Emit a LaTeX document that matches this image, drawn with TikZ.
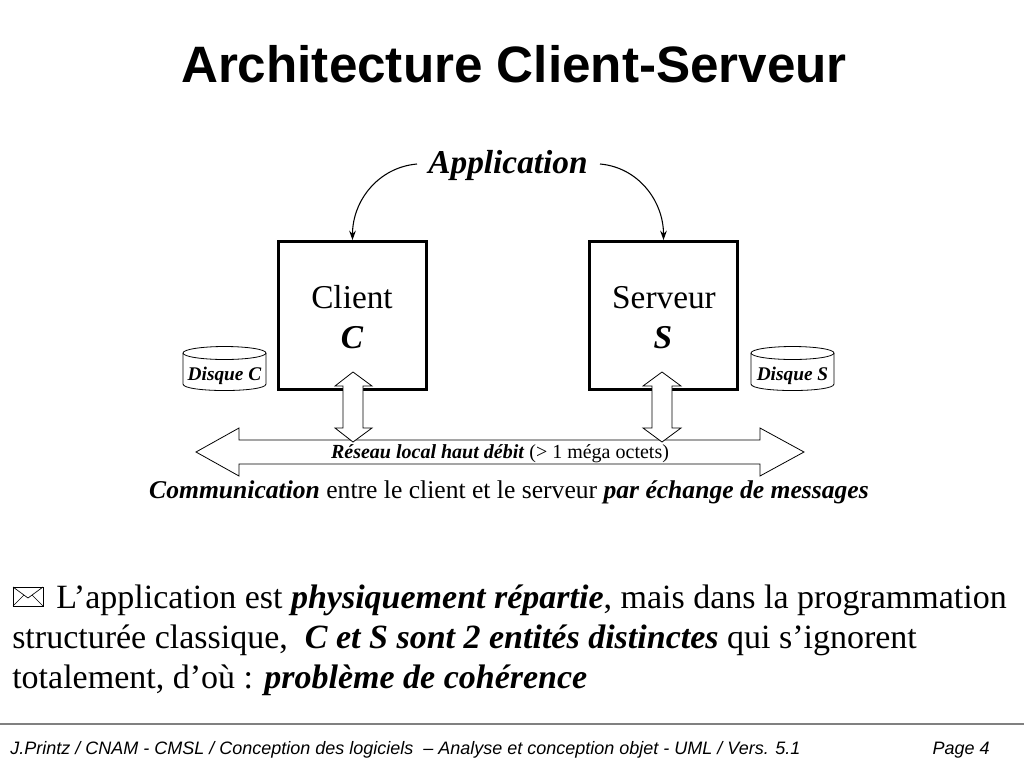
\documentclass[tikz,border=0pt]{standalone}
\usepackage{fontspec}
\setmainfont{Liberation Serif}
\newfontfamily\titlefont{Liberation Sans}
\newfontfamily\footfont{Liberation Sans}
\usetikzlibrary{arrows.meta}
\begin{document}
\begin{tikzpicture}[x=0.75pt,y=-0.75pt,
  box/.style={draw, line width=2.25pt, minimum width=111pt, minimum height=111pt, inner sep=0pt},
  fatarrow/.style={draw, line width=0.6pt, fill=white},
  curvearrow/.style={-{Stealth[length=7pt,width=5pt]}, line width=0.8pt},
  txt/.style={inner sep=0pt, anchor=base},
  disk/.style={draw, line width=0.6pt, fill=white},
  envelope/.style={draw, line width=0.5pt},
  body/.style={inner sep=0pt, anchor=base west, font=\fontsize{25.5}{30}\selectfont}]
\path[use as bounding box, fill=white] (0,0) rectangle (1024,768);

% title
\node[txt, font=\titlefont\bfseries\fontsize{38.4}{46}\selectfont] (title) at (514,82) {Architecture Client-Serveur};

% boxes
\node[box] (client) at (352.5,315.5) {};
\node[box] (serveur) at (663.5,315.5) {};
\node[txt, font=\fontsize{25}{30}\selectfont] (clientlbl) at (352,308) {Client};
\node[txt, font=\fontsize{25}{30}\selectfont\bfseries\itshape] (clientC) at (352,348) {C};
\node[txt, font=\fontsize{25}{30}\selectfont] (serveurlbl) at (664,308) {Serveur};
\node[txt, font=\fontsize{25}{30}\selectfont\bfseries\itshape] (serveurS) at (663,348) {S};

% application
\node[txt, font=\fontsize{25}{29}\selectfont\bfseries\itshape] (app) at (508,173) {Application};
\coordinate (appL) at (417,164);
\coordinate (appR) at (600,164);
\draw[curvearrow] (appL) to[out=185, in=90] (client.north);
\draw[curvearrow] (appR) to[out=-5, in=90] (serveur.north);

% disks
\draw[disk] (183,353) -- (183,384) .. controls (183,392.7) and (266,392.7) .. (266,384) -- (266,353);
\draw[disk] (224.5,353) ellipse [x radius=41.5, y radius=6.5];
\node[txt, font=\fontsize{14.5}{17}\selectfont\bfseries\itshape] (disqueC) at (224.5,380) {Disque C};
\draw[disk] (751,353) -- (751,384) .. controls (751,392.7) and (834,392.7) .. (834,384) -- (834,353);
\draw[disk] (792.5,353) ellipse [x radius=41.5, y radius=6.5];
\node[txt, font=\fontsize{14.5}{17}\selectfont\bfseries\itshape] (disqueS) at (792.5,380) {Disque S};

% network arrow
\draw[fatarrow] (196,452) -- (239,428) -- (239,440) -- (760,440) -- (760,428) -- (804,452)
  -- (760,476) -- (760,464) -- (239,464) -- (239,476) -- cycle;
\node[txt, font=\fontsize{15}{17}\selectfont] (reseau) at (500,458) {\textbf{\textit{Réseau local haut débit}} (> 1 méga octets)};

% vertical arrows
\draw[fatarrow] (353,372) -- (372,386) -- (363,386) -- (363,428) -- (372,428) -- (353,442)
  -- (335,428) -- (343,428) -- (343,386) -- (335,386) -- cycle;
\draw[fatarrow] (662,372) -- (681,386) -- (672,386) -- (672,428) -- (681,428) -- (662,442)
  -- (643,428) -- (652,428) -- (652,386) -- (643,386) -- cycle;

% communication
\node[txt, font=\fontsize{19.2}{23}\selectfont] (comm) at (509,498) {\textbf{\textit{Communication}} entre le client et le serveur \textbf{\textit{par échange de messages}}};

% envelope bullet
\draw[envelope] (13,587) rectangle (43,606);
\draw[envelope] (13,587) -- (28,598) -- (43,587);
\draw[envelope] (13,606) -- (24,595);
\draw[envelope] (43,606) -- (32,595);

% body text
\node[body] (line1) at (56,608) {L’application est \textbf{\textit{physiquement répartie}}, mais dans la programmation};
\node[body] (line2) at (12,648) {structurée classique,\ \ \textbf{\textit{C et S sont 2 entités distinctes}} qui s’ignorent};
\node[body] (line3) at (12,688) {totalement, d’où : \textbf{\textit{problème de cohérence}}};

% footer
\coordinate (fl) at (0,724);
\coordinate (fr) at (1024,724);
\draw[gray, line width=1.8pt] (fl) -- (fr);
\node[txt, anchor=base west, font=\footfont\itshape\fontsize{13.5}{16}\selectfont] (footer) at (10,754) {J.Printz / CNAM - CMSL / Conception des logiciels\ \ – Analyse et conception objet - UML / Vers. 5.1};
\node[txt, anchor=base east, font=\footfont\itshape\fontsize{13.5}{16}\selectfont] (page) at (990,754) {Page 4};
\end{tikzpicture}
\end{document}
